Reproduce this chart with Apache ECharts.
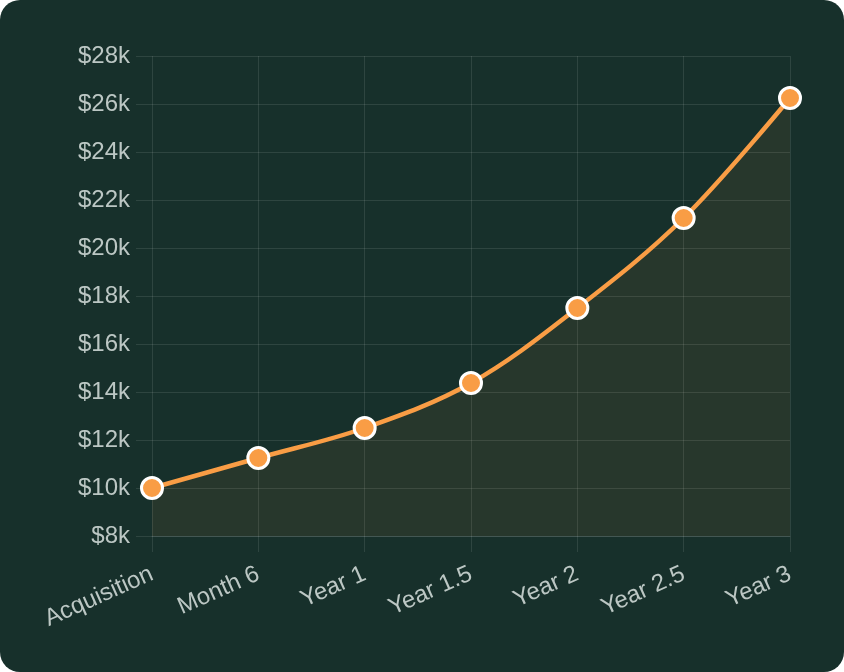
<!DOCTYPE html>
<html>
<head>
<meta charset="utf-8">
<script src="https://cdn.jsdelivr.net/npm/echarts@6/dist/echarts.min.js"></script>
<style>
  html, body { margin: 0; padding: 0; background: #ffffff; }
  #wrap { width: 844px; height: 672px; background: #17302b; border-radius: 20px; overflow: hidden; }
  #chart { width: 844px; height: 672px; }
</style>
</head>
<body>
<div id="wrap"><div id="chart"></div></div>
<script>
const categories = ['Acquisition', 'Month 6', 'Year 1', 'Year 1.5', 'Year 2', 'Year 2.5', 'Year 3'];
const values = [10000, 11250, 12500, 14375, 17500, 21250, 26250];
const yMin = 8000, yMax = 28000, yStep = 2000;

const gridColor = 'rgba(255,255,255,0.1)';
const labelColor = '#bcc7c4';
const fontFamily = '"Liberation Sans", Arial, Helvetica, sans-serif';

const chart = echarts.init(document.getElementById('chart'), null, { renderer: 'canvas' });
chart.setOption({
  backgroundColor: 'transparent',
  animation: false,
  grid: { left: 152, right: 54, top: 56, bottom: 136, containLabel: false },
  xAxis: {
    type: 'category',
    data: categories,
    boundaryGap: false,
    axisLine: { show: true, lineStyle: { color: gridColor, width: 1 } },
    axisTick: { show: true, length: 16, alignWithLabel: true, lineStyle: { color: gridColor } },
    splitLine: { show: true, lineStyle: { color: gridColor, width: 1 } },
    axisLabel: { color: labelColor, fontSize: 24, fontFamily: fontFamily, rotate: 24, margin: 37, interval: 0 }
  },
  yAxis: {
    type: 'value',
    min: yMin, max: yMax, interval: yStep,
    axisLine: { show: false },
    axisTick: { show: true, length: 16, lineStyle: { color: gridColor } },
    splitLine: { show: true, lineStyle: { color: gridColor, width: 1 } },
    axisLabel: {
      color: labelColor, fontSize: 24, fontFamily: fontFamily, margin: 22,
      formatter: v => '$' + (v / 1000) + 'k'
    }
  },
  series: [{
    type: 'line',
    data: values,
    smooth: 0.35,
    symbol: 'circle',
    symbolSize: 21,
    lineStyle: { color: '#f99d45', width: 4.5 },
    itemStyle: { color: '#f99d45', borderColor: '#ffffff', borderWidth: 3 },
    areaStyle: { color: 'rgba(249,157,69,0.1)' }
  }]
});
</script>
</body>
</html>
